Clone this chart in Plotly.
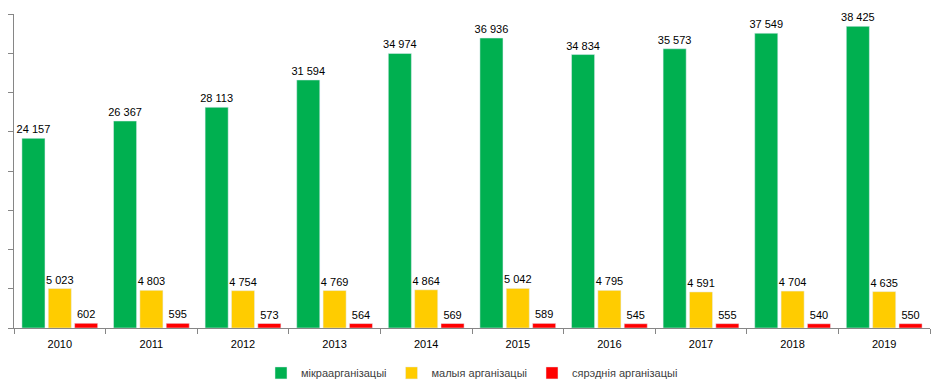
import plotly.graph_objects as go

years = ["2010", "2011", "2012", "2013", "2014", "2015", "2016", "2017", "2018", "2019"]
micro = [24157, 26367, 28113, 31594, 34974, 36936, 34834, 35573, 37549, 38425]
small = [5023, 4803, 4754, 4769, 4864, 5042, 4795, 4591, 4704, 4635]
medium = [602, 595, 573, 564, 569, 589, 545, 555, 540, 550]

names = ["мікраарганізацыі", "малыя арганізацыі", "сярэднія арганізацыі"]
colors = ["#00B050", "#FFCC00", "#FF0000"]

fig = go.Figure()
for name, vals, col in zip(names, [micro, small, medium], colors):
    fig.add_trace(go.Bar(
        x=years, y=vals, name=name, marker_color=col,
        texttemplate="%{y:,}", textposition="outside", constraintext="none",
        textfont=dict(size=11, color="#000000", family="Liberation Sans, Arial"),
        cliponaxis=False,
    ))

fig.update_layout(
    width=944, height=392,
    margin=dict(l=14, r=14, t=14, b=64, autoexpand=False),
    paper_bgcolor="white", plot_bgcolor="white",
    separators=", ",
    barmode="group", bargap=0.137, bargroupgap=0.125,
    font=dict(family="Liberation Sans, Arial", size=11, color="#404040"),
    showlegend=True,
    legend=dict(orientation="h", x=0.5, xanchor="center", y=-0.143, yanchor="middle",
                font=dict(size=11, color="#404040"), itemwidth=30,
                traceorder="normal"),
    xaxis=dict(showline=True, linecolor="#868686", linewidth=1, automargin=False,
               ticks="outside", tickson="boundaries", ticklen=5, tickcolor="#868686",
               ticklabelstandoff=6,
               tickfont=dict(size=11, color="#000000")),
    yaxis=dict(range=[0, 40000], dtick=5000, showgrid=False, showline=True, automargin=False,
               linecolor="#868686", linewidth=1, ticks="outside", ticklen=5,
               tickcolor="#868686", showticklabels=False, zeroline=False),
)

fig.write_html("out.html", post_script="document.body.style.margin='0';",
               config={"displayModeBar": False})
